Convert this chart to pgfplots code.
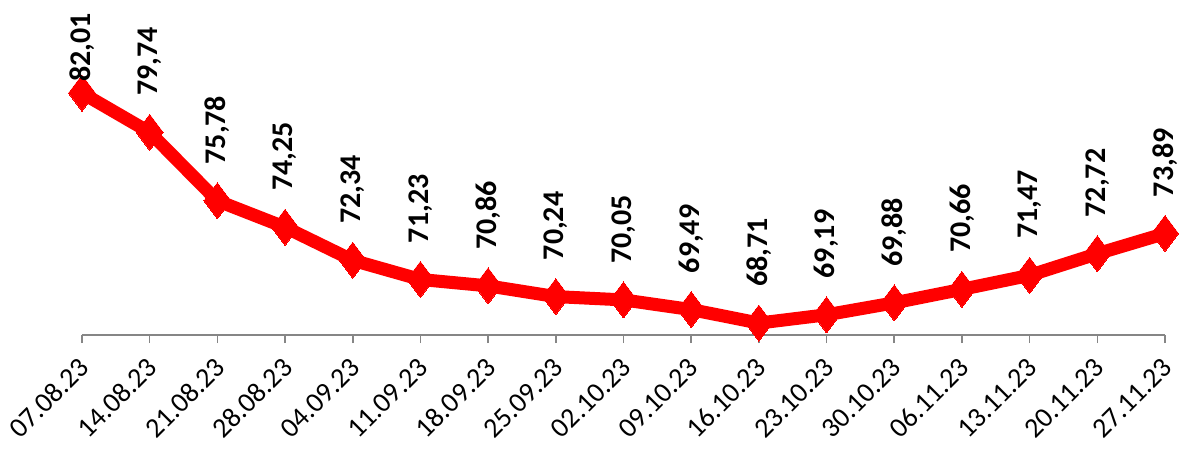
\documentclass[border=0pt]{standalone}
\usepackage{pgfplots}
\pgfplotsset{compat=1.18}
\usepackage{pgfplotstable}
\usepackage{fontspec}
\setmainfont{Carlito}

\definecolor{axgray}{RGB}{134,134,134}

\pgfplotstableread{
x y lab
0 82.01 82,01
1 79.74 79,74
2 75.78 75,78
3 74.25 74,25
4 72.34 72,34
5 71.23 71,23
6 70.86 70,86
7 70.24 70,24
8 70.05 70,05
9 69.49 69,49
10 68.71 68,71
11 69.19 69,19
12 69.88 69,88
13 70.66 70,66
14 71.47 71,47
15 72.72 72,72
16 73.89 73,89
}\rates

\begin{document}
\begin{tikzpicture}
\begin{axis}[
    name=ax,
    scale only axis,
    width=541.5pt, height=167.5pt,
    xmin=0, xmax=16,
    ymin=68.02, ymax=87.39,
    axis y line=none,
    axis x line*=bottom,
    x axis line style={axgray, line width=0.8pt, -},
    xtick={0,...,16},
    xticklabels={07.08.23,14.08.23,21.08.23,28.08.23,04.09.23,11.09.23,18.09.23,25.09.23,02.10.23,09.10.23,16.10.23,23.10.23,30.10.23,06.11.23,13.11.23,20.11.23,27.11.23},
    x tick style={axgray, line width=0.8pt},
    tick align=outside,
    major tick length=4pt,
    xticklabel style={yshift=-9pt, xshift=2pt, rotate=45, anchor=east, font=\fontsize{14}{14}\selectfont, inner sep=1pt},
    clip=false,
    labstyle/.style={draw=none, mark=none, nodes near coords, point meta=explicit symbolic,
        nodes near coords style={rotate=90, anchor=west, inner ysep=0pt, inner xsep=#1,
        text=black, font=\bfseries\fontsize{15}{15}\selectfont}},
]
\addplot[red, line width=6.5pt, mark=diamond*, mark size=9pt,
    mark options={solid, fill=red, draw=red, line width=0pt}]
    table[x=x, y=y] {\rates};
\addplot[labstyle=18pt, skip coords between index={0}{1}]
    table[x=x, y=y, meta=lab] {\rates};
\addplot[labstyle=5.5pt, skip coords between index={1}{17}]
    table[x=x, y=y, meta=lab] {\rates};
\end{axis}
\pgfresetboundingbox
\path (ax.south west) ++(-41pt,-57.5pt) rectangle ++(589.5pt,225pt);
\end{tikzpicture}
\end{document}
